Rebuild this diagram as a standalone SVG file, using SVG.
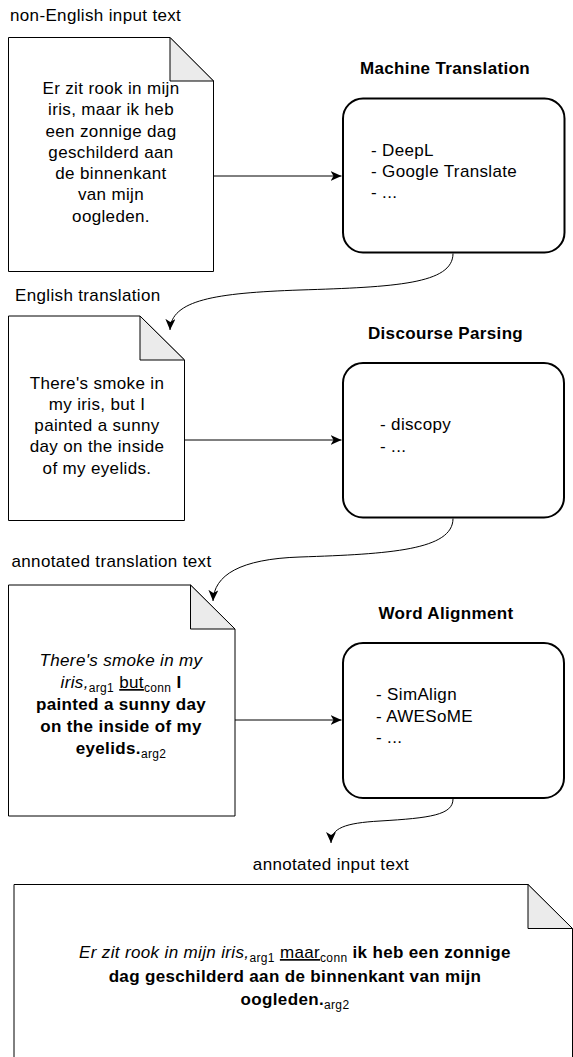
<svg xmlns="http://www.w3.org/2000/svg" width="573" height="1057" viewBox="0 0 573 1057">
<style>
text{font-family:"Liberation Sans",Arial,sans-serif;font-size:17px;fill:#000;letter-spacing:0.35px}
.c{text-anchor:middle}
.b{font-weight:bold}
.i{font-style:italic}
.s{font-size:12px;font-style:normal;font-weight:normal}
.u{text-decoration:underline}
.doc{fill:#fff;stroke:#000;stroke-width:1}
.fold{fill:#ebebeb;stroke:#000;stroke-width:1}
.box{fill:#fff;stroke:#000;stroke-width:2}
.edge{fill:none;stroke:#000;stroke-width:1}
</style>
<defs>
<marker id="arr" markerUnits="userSpaceOnUse" markerWidth="12" markerHeight="10" refX="11" refY="5" orient="auto">
<path d="M0,0 L11,5 L0,10 L3,5 Z" fill="#000"/>
</marker>
</defs>
<rect width="573" height="1057" fill="#fff"/>

<g id="label-input"><text x="10" y="21">non-English input text</text></g>
<g id="doc-input">
<path class="doc" d="M8.5,37.5 H170 L213.5,81 V271.5 H8.5 Z"/>
<path class="fold" d="M170,37.5 V81 H213.5 Z"/>
<text class="c" x="111" y="94">Er zit rook in mijn</text>
<text class="c" x="111" y="115.3">iris, maar ik heb</text>
<text class="c" x="111" y="136.5">een zonnige dag</text>
<text class="c" x="111" y="157.8">geschilderd aan</text>
<text class="c" x="111" y="179.1">de binnenkant</text>
<text class="c" x="111" y="200.4">van mijn</text>
<text class="c" x="111" y="221.6">oogleden.</text>
</g>

<g id="title-mt"><text class="c b" x="445" y="74">Machine Translation</text></g>
<g id="box-mt">
<rect class="box" x="343" y="98.5" width="221.5" height="154" rx="20"/>
<text x="371" y="155.5">- DeepL</text>
<text x="371" y="177">- Google Translate</text>
<text x="371" y="198">- ...</text>
</g>

<g id="label-en"><text x="15" y="301">English translation</text></g>
<g id="doc-en">
<path class="doc" d="M8.5,316 H140 L184.5,360 V520.5 H8.5 Z"/>
<path class="fold" d="M140,316 V360 H184.5 Z"/>
<text class="c" x="97" y="388.5">There's smoke in</text>
<text class="c" x="97" y="409.8">my iris, but I</text>
<text class="c" x="97" y="431">painted a sunny</text>
<text class="c" x="97" y="452.3">day on the inside</text>
<text class="c" x="97" y="473.6">of my eyelids.</text>
</g>

<g id="title-dp"><text class="c b" x="445.5" y="339.3">Discourse Parsing</text></g>
<g id="box-dp">
<rect class="box" x="343" y="363" width="221" height="154.5" rx="20"/>
<text x="380" y="430">- discopy</text>
<text x="380" y="451.5">- ...</text>
</g>

<g id="label-ann"><text x="11.5" y="567">annotated translation text</text></g>
<g id="doc-ann">
<path class="doc" d="M8.5,585 H190.5 L235,629 V816 H8.5 Z"/>
<path class="fold" d="M190.5,585 V629 H235 Z"/>
<text class="c i" x="121" y="666">There's smoke in my</text>
<text class="c" x="121" y="688"><tspan class="i">iris,</tspan><tspan class="s" dy="4">arg1</tspan><tspan dy="-4"> </tspan><tspan class="u">but</tspan><tspan class="s" dy="4">conn</tspan><tspan class="b" dy="-4"> I</tspan></text>
<text class="c b" x="121" y="710">painted a sunny day</text>
<text class="c b" x="121" y="732">on the inside of my</text>
<text class="c" x="121" y="754"><tspan class="b">eyelids.</tspan><tspan class="s" dy="4">arg2</tspan></text>
</g>

<g id="title-wa"><text class="c b" x="446" y="619.3">Word Alignment</text></g>
<g id="box-wa">
<rect class="box" x="343" y="643" width="221" height="155" rx="20"/>
<text x="376" y="700">- SimAlign</text>
<text x="376" y="721.5">- AWESoME</text>
<text x="376" y="743">- ...</text>
</g>

<g id="label-out"><text class="c" x="331" y="870">annotated input text</text></g>
<g id="doc-out">
<path class="doc" d="M14,884.5 H528 L572.5,928.5 V1070 H14 Z"/>
<path class="fold" d="M528,884.5 V928.5 H572.5 Z"/>
<text class="c" x="295" y="958"><tspan class="i">Er zit rook in mijn iris,</tspan><tspan class="s" dy="4">arg1</tspan><tspan dy="-4"> </tspan><tspan class="u">maar</tspan><tspan class="s" dy="4">conn</tspan><tspan class="b" dy="-4"> ik heb een zonnige</tspan></text>
<text class="c b" x="295" y="982">dag geschilderd aan de binnenkant van mijn</text>
<text class="c" x="295" y="1005"><tspan class="b">oogleden.</tspan><tspan class="s" dy="4">arg2</tspan></text>
</g>

<g id="connectors">
<path class="edge" marker-end="url(#arr)" d="M213.5,176 H341.5"/>
<path class="edge" marker-end="url(#arr)" d="M184.5,440 H341.5"/>
<path class="edge" marker-end="url(#arr)" d="M235,720 H341.5"/>
<path class="edge" marker-end="url(#arr)" d="M453,253.5 C453,284 395,287 300,290 C215,293 171,300 170,330"/>
<path class="edge" marker-end="url(#arr)" d="M453,518.5 C453,550 390,554 300,557 C240,559 214,575 213,601"/>
<path class="edge" marker-end="url(#arr)" d="M453,799 C453,815 430,818 380,821 C345,823 331,828 331,843"/>
</g>
</svg>
